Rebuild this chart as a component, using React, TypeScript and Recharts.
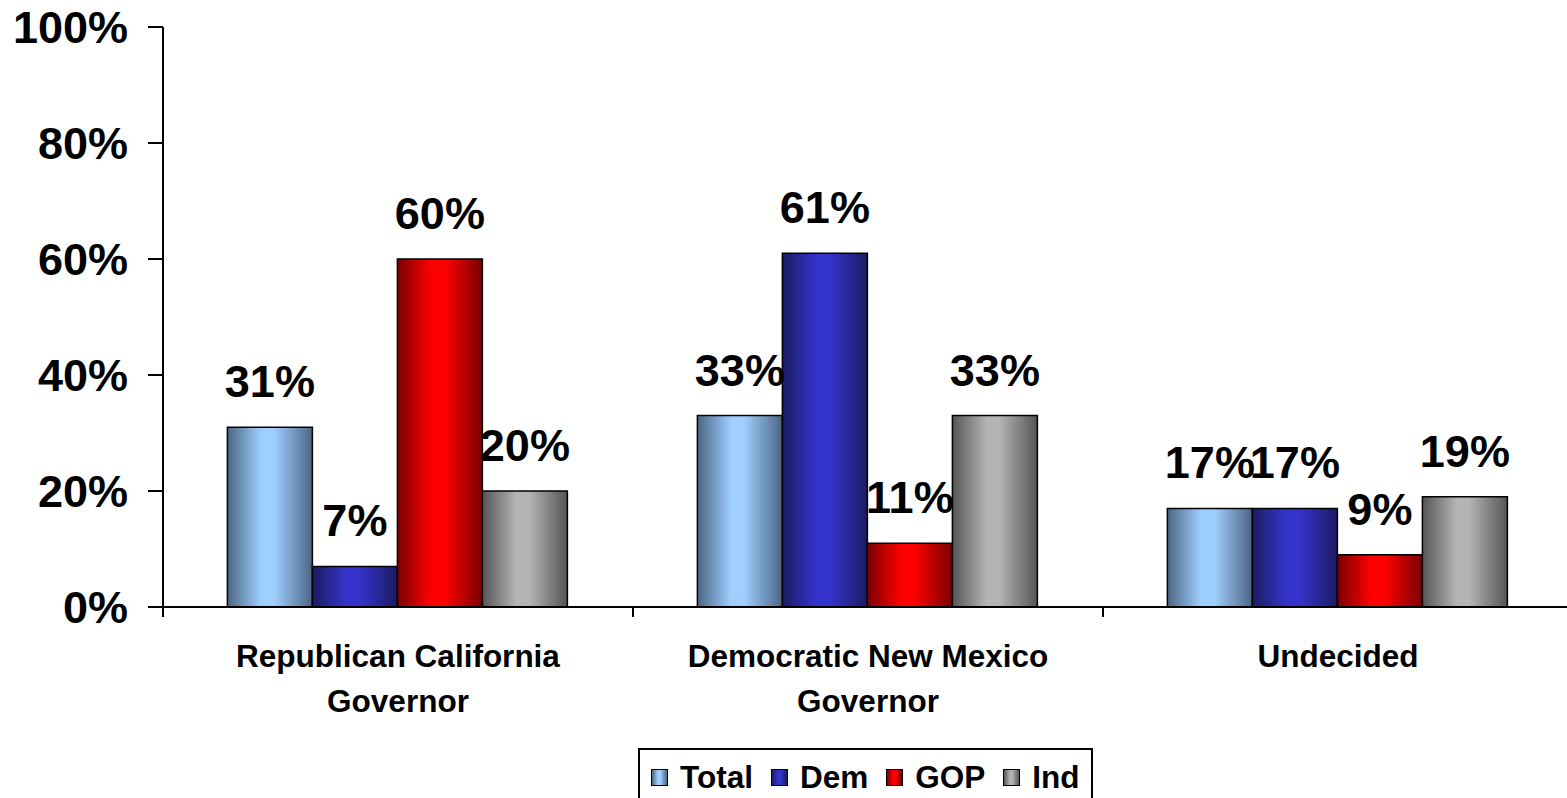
import React from "react";
import { BarChart, Bar, XAxis, YAxis, LabelList } from "recharts";

const categories = [
  "Republican California\nGovernor",
  "Democratic New Mexico\nGovernor",
  "Undecided",
];
const totalValues = [31, 33, 17];
const demValues = [7, 61, 17];
const gopValues = [60, 11, 9];
const indValues = [20, 33, 19];
const yTicks = [0, 20, 40, 60, 80, 100];

const series = [
  { key: "total", name: "Total", edge: "#4b6584", mid: "#9fcfff" },
  { key: "dem", name: "Dem", edge: "#1b1b62", mid: "#3434cc" },
  { key: "gop", name: "GOP", edge: "#7a0000", mid: "#ff0000" },
  { key: "ind", name: "Ind", edge: "#555555", mid: "#b4b4b4" },
];

const data = categories.map((name, i) => ({
  name,
  total: totalValues[i],
  dem: demValues[i],
  gop: gopValues[i],
  ind: indValues[i],
}));

const FONT = '"Liberation Sans", Arial, sans-serif';

const CategoryTick = (props: any) => {
  const { x, y, payload } = props;
  const lines = String(payload.value).split("\n");
  const left = x - (payload.offset || 0);
  return (
    <g>
      <line x1={left} x2={left} y1={y} y2={y + 10} stroke="#000" strokeWidth={2} />
      <text
        x={x}
        y={y + 60}
        textAnchor="middle"
        fontFamily={FONT}
        fontWeight="bold"
        fontSize={31.5}
        fill="#000"
      >
        {lines.map((l, i) => (
          <tspan key={i} x={x} dy={i === 0 ? 0 : 45}>
            {l}
          </tspan>
        ))}
      </text>
    </g>
  );
};

const labelStyle = {
  fontFamily: FONT,
  fontWeight: "bold" as const,
  fontSize: 45,
  fill: "#000",
};

export default function App() {
  return (
    <div
      style={{
        position: "absolute",
        left: 0,
        top: 0,
        width: 1567,
        height: 798,
        overflow: "hidden",
        background: "#fff",
        fontFamily: FONT,
      }}
    >
      <BarChart
        width={1600}
        height={798}
        data={data}
        margin={{ top: 27, right: 27, bottom: 0, left: 0 }}
        barCategoryGap="13.7%"
        barGap={0}
      >
        <defs>
          {series.map((s) => (
            <linearGradient key={s.key} id={`grad-${s.key}`} x1="0" y1="0" x2="1" y2="0">
              <stop offset="0%" stopColor={s.edge} />
              <stop offset="40%" stopColor={s.mid} />
              <stop offset="55%" stopColor={s.mid} />
              <stop offset="100%" stopColor={s.edge} />
            </linearGradient>
          ))}
        </defs>
        <XAxis
          dataKey="name"
          height={191}
          tickLine={false}
          tickSize={0}
          tickMargin={0}
          axisLine={{ stroke: "#000", strokeWidth: 2 }}
          tick={<CategoryTick />}
          interval={0}
        />
        <YAxis
          width={163}
          domain={[0, 100]}
          ticks={yTicks}
          tickFormatter={(v: number) => `${v}%`}
          tickSize={15}
          tickMargin={20}
          axisLine={{ stroke: "#000", strokeWidth: 2 }}
          tickLine={{ stroke: "#000", strokeWidth: 2 }}
          tick={{ ...labelStyle, fontSize: 45 }}
        />
        {series.map((s) => (
          <Bar
            key={s.key}
            dataKey={s.key}
            name={s.name}
            fill={`url(#grad-${s.key})`}
            stroke="#000"
            strokeWidth={1.5}
            isAnimationActive={false}
          >
            <LabelList
              dataKey={s.key}
              position="top"
              offset={30}
              formatter={(v: any) => `${v}%`}
              style={labelStyle}
            />
          </Bar>
        ))}
      </BarChart>
      <div
        style={{
          position: "absolute",
          left: 638,
          top: 748,
          height: 60,
          border: "2px solid #000",
          background: "#fff",
          display: "flex",
          alignItems: "flex-start",
          paddingLeft: 11,
          paddingRight: 12,
          paddingTop: 10,
          boxSizing: "border-box",
        }}
      >
        {series.map((s, i) => (
          <div
            key={s.key}
            style={{
              display: "flex",
              alignItems: "center",
              marginLeft: i === 0 ? 0 : 18,
            }}
          >
            <span
              style={{
                width: 15,
                height: 15,
                border: "1.5px solid #000",
                background: `linear-gradient(to right, ${s.edge} 0%, ${s.mid} 40%, ${s.mid} 55%, ${s.edge} 100%)`,
                marginRight: 12,
                display: "inline-block",
              }}
            />
            <span
              style={{
                fontFamily: FONT,
                fontWeight: "bold",
                fontSize: 31.5,
                lineHeight: "34px",
                color: "#000",
              }}
            >
              {s.name}
            </span>
          </div>
        ))}
      </div>
    </div>
  );
}
